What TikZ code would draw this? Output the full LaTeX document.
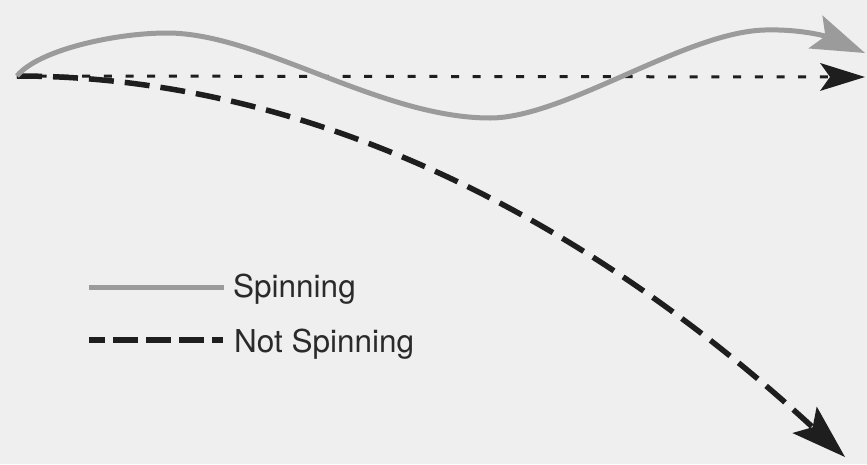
\documentclass[tikz,border=0pt]{standalone}
\usepackage{fontspec}
\setmainfont{TeX Gyre Heros}
\usetikzlibrary{arrows.meta}
\definecolor{paper}{HTML}{EFEFEF}
\definecolor{spin}{HTML}{9B9B9B}
\definecolor{ink}{HTML}{1E1E1E}
\definecolor{label}{HTML}{2A2A2A}
\tikzset{
  spinline/.style={draw=spin, line width=5pt, line cap=butt},
  flatline/.style={draw=ink, line width=3pt, dash pattern=on 8pt off 13.7pt},
  dropline/.style={draw=ink, line width=5.5pt, dash pattern=on 25pt off 11pt},
  legendtext/.style={anchor=base west, inner sep=0pt, text=label, font=\fontsize{31.5}{31.5}\selectfont},
}
\begin{document}
\begin{tikzpicture}[x=1pt, y=-1pt]
  \fill[paper] (0,0) rectangle (867,464);
  \useasboundingbox (0,0) rectangle (867,464);

  % launch point and end points
  \coordinate (launch) at (17,76);
  \coordinate (spinpeak) at (167,33);
  \coordinate (spinlow) at (490,118);
  \coordinate (spinhump) at (765,30);
  \coordinate (spinend) at (865,53);
  \coordinate (flatend) at (865,77);
  \coordinate (dropend) at (845,457);

  % reference: straight path
  \draw[flatline, -{Stealth[length=45pt, width=28pt, inset=10pt, line width=0pt]}]
    (launch) -- (flatend);

  % trajectory without spin: parabolic fall
  \draw[dropline, -{Stealth[length=55pt, width=36pt, inset=11pt, line width=0pt]}]
    (launch) .. controls (293,76) and (569,203) .. (dropend);

  % trajectory with spin: wavy path
  \draw[spinline, -{Stealth[length=54pt, width=36pt, inset=11pt, line width=0pt]}]
    (launch) .. controls (38,50) and (115,33) .. (spinpeak)
             .. controls (260,33) and (380,118) .. (spinlow)
             .. controls (565,118) and (685,32) .. (spinhump)
             .. controls (800,29) and (825,36) .. (spinend);

  % legend
  \coordinate (keyA0) at (89,287);
  \coordinate (keyA1) at (224,287);
  \coordinate (keyB0) at (89,340);
  \coordinate (keyB1) at (223,340);
  \draw[spinline] (keyA0) -- (keyA1);
  \draw[draw=ink, line width=5.5pt, dash pattern=on 25pt off 8pt, dash phase=9pt] (keyB0) -- (keyB1);
  \node[legendtext] (spinlabel) at (233,297) {Spinning};
  \node[legendtext] (nospinlabel) at (234,352) {Not Spinning};
\end{tikzpicture}
\end{document}
